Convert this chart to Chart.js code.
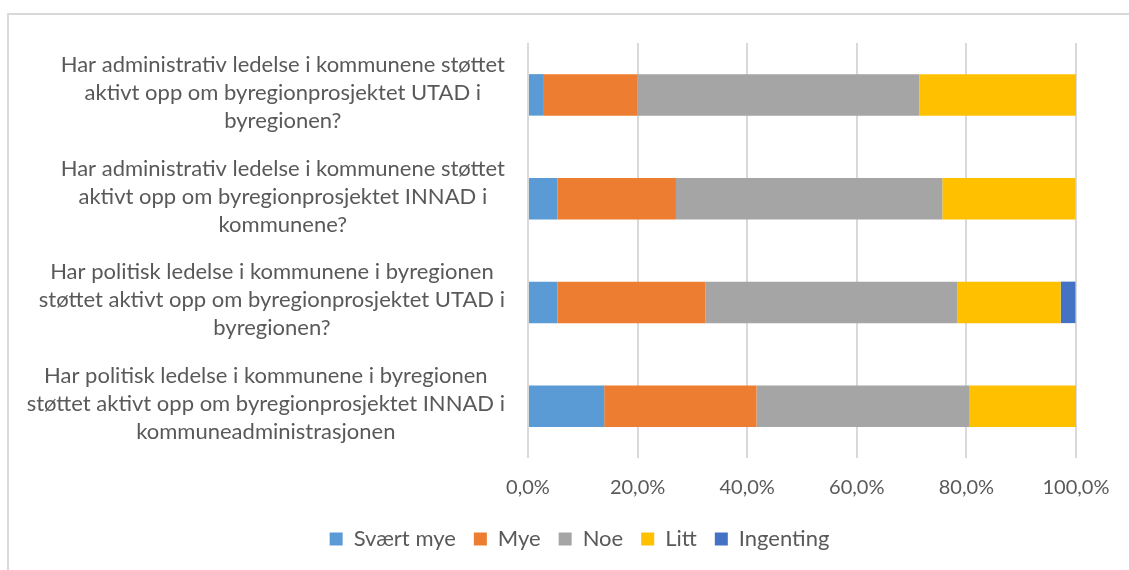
<!DOCTYPE html>
<html>
<head>
<meta charset="utf-8">
<script src="https://cdn.jsdelivr.net/npm/chart.js@4"></script>
<style>
    html, body { margin: 0; padding: 0; background: #fff; }
    #frame {
        position: absolute; left: 7px; top: 13px; right: 0; bottom: 0;
        border-top: 2px solid #d9d9d9; border-left: 2px solid #d9d9d9;
    }
    #wrap { position: absolute; left: 0; top: 0; width: 1129px; height: 570px; }
</style>
</head>
<body>
<div id="frame"></div>
<div id="wrap"><canvas id="chart"></canvas></div>
<script>
const questions = [
    ['Har administrativ ledelse i kommunene støttet', 'aktivt opp om byregionprosjektet UTAD i', 'byregionen?'],
    ['Har administrativ ledelse i kommunene støttet', 'aktivt opp om byregionprosjektet INNAD i', 'kommunene?'],
    ['Har politisk ledelse i kommunene i byregionen', 'støttet aktivt opp om byregionprosjektet UTAD i', 'byregionen?'],
    ['Har politisk ledelse i kommunene i byregionen', 'støttet aktivt opp om byregionprosjektet INNAD i', 'kommuneadministrasjonen']
];

// andel svar i prosent, samme rekkefølge som spørsmålene
const svaertMye = [2.9, 5.4, 5.4, 13.9];
const mye       = [17.1, 21.6, 27.0, 27.8];
const noe       = [51.4, 48.6, 45.9, 38.9];
const litt      = [28.6, 24.3, 18.9, 19.4];
const ingenting = [0, 0, 2.7, 0];

const xTicks = [0, 20, 40, 60, 80, 100];

const textColor = '#595959';
const padLeft = 83;

function ds(label, data, color) {
    return {
        label: label,
        data: data,
        backgroundColor: color,
        borderWidth: 0,
        barPercentage: 0.4,
        categoryPercentage: 1
    };
}

// spørsmålene tegnes selv, slik at hver blokk sentreres for seg
const questionLabels = {
    id: 'questionLabels',
    afterDraw(chart) {
        const scale = chart.scales.y;
        const ctx = chart.ctx;
        const lineH = 28;
        ctx.save();
        ctx.font = '22px Lato';
        ctx.fillStyle = textColor;
        ctx.textAlign = 'center';
        ctx.textBaseline = 'middle';
        questions.forEach((lines, i) => {
            const widest = Math.max(...lines.map(l => ctx.measureText(l).width));
            const cx = scale.right - 23 - widest / 2;
            const cy = scale.getPixelForTick(i) - 2;
            lines.forEach((l, j) => {
                ctx.fillText(l, cx, cy + (j - (lines.length - 1) / 2) * lineH);
            });
        });
        ctx.restore();
    }
};

new Chart(document.getElementById('chart'), {
    type: 'bar',
    data: {
        labels: questions,
        datasets: [
            ds('Svært mye', svaertMye, '#5B9BD5'),
            ds('Mye', mye, '#ED7D31'),
            ds('Noe', noe, '#A5A5A5'),
            ds('Litt', litt, '#FFC000'),
            ds('Ingenting', ingenting, '#4472C4')
        ]
    },
    plugins: [questionLabels],
    options: {
        indexAxis: 'y',
        responsive: true,
        maintainAspectRatio: false,
        animation: false,
        layout: { padding: { top: 43, right: 53, bottom: 10, left: padLeft } },
        plugins: {
            tooltip: { enabled: false },
            legend: {
                position: 'bottom',
                labels: {
                    boxWidth: 13,
                    boxHeight: 13,
                    padding: 18,
                    color: textColor,
                    font: { family: 'Lato', size: 22 }
                }
            }
        },
        scales: {
            x: {
                stacked: true,
                min: 0,
                max: 100,
                afterBuildTicks: (scale) => {
                    scale.ticks = xTicks.map(v => ({ value: v }));
                },
                afterFit: (scale) => { scale.height = 52; },
                ticks: {
                    color: textColor,
                    font: { family: 'Lato', size: 20 },
                    padding: 18,
                    callback: (v) => v.toFixed(1).replace('.', ',') + '%'
                },
                grid: { color: '#d9d9d9', lineWidth: 2, drawTicks: false },
                border: { display: false }
            },
            y: {
                stacked: true,
                afterFit: (scale) => {
                    scale.width = 528 - padLeft;
                    scale.paddingTop = 0;
                    scale.paddingBottom = 0;
                },
                ticks: { display: false },
                grid: { display: false, drawTicks: false },
                border: { display: false }
            }
        }
    }
});
</script>
</body>
</html>
